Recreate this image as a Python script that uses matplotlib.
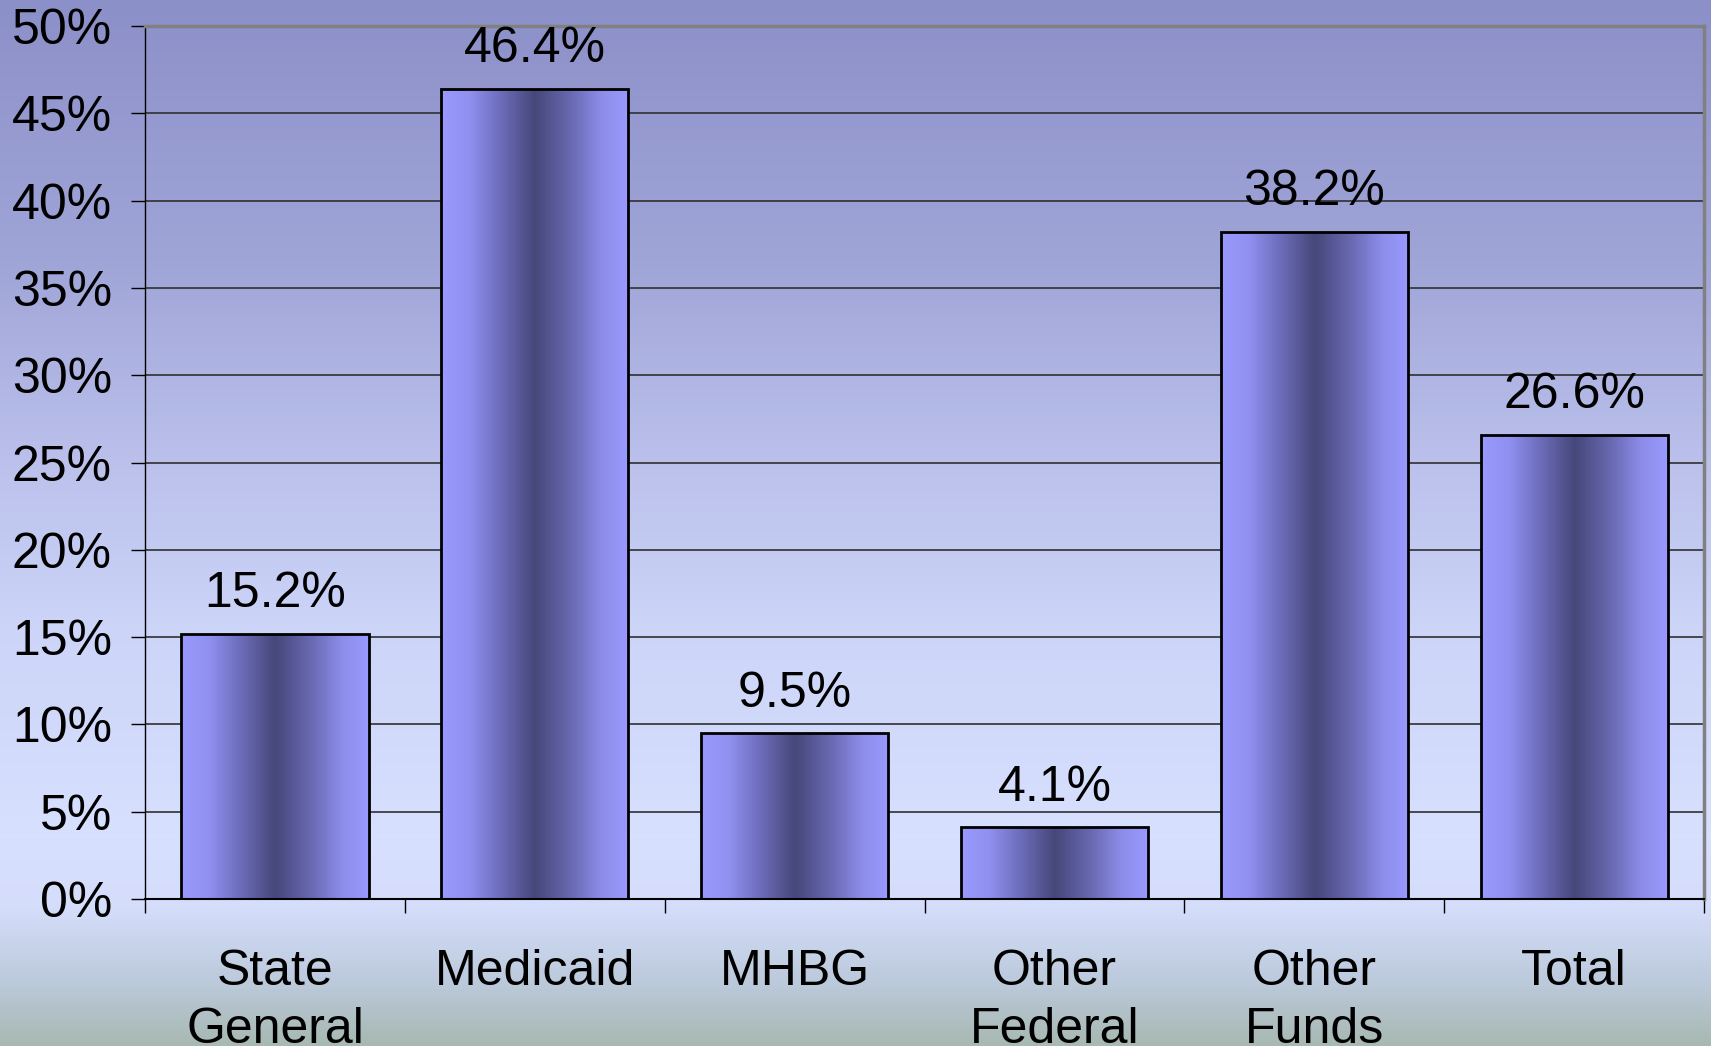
import numpy as np
import matplotlib
matplotlib.use('Agg')
from matplotlib import pyplot as plt
from matplotlib.colors import LinearSegmentedColormap

plt.rcParams['font.family'] = ['Liberation Sans', 'DejaVu Sans']

# data
categories = ['State\nGeneral', 'Medicaid', 'MHBG', 'Other\nFederal', 'Other\nFunds', 'Total']
values = [15.2, 46.4, 9.5, 4.1, 38.2, 26.6]
y_ticks = [0, 5, 10, 15, 20, 25, 30, 35, 40, 45, 50]

fs = 36

fig = plt.figure(figsize=(17.11, 10.46), dpi=100)

# background gradient over the whole figure
bg_cmap = LinearSegmentedColormap.from_list('bg', [
    (0.0, '#8c90c8'), (0.25, '#a0a5d8'), (0.45, '#bcc2ec'), (0.6, '#ccd4f8'),
    (0.8, '#d8e0ff'), (0.87, '#d4ddfa'), (0.94, '#bccadc'), (1.0, '#a8b8b2')])
bg = fig.add_axes([0, 0, 1, 1], zorder=-10)
bg.imshow(np.linspace(0, 1, 256).reshape(-1, 1), cmap=bg_cmap, aspect='auto',
          extent=[0, 1, 0, 1])
bg.set_axis_off()

ax = fig.add_axes([0.0848, 0.1405, 0.9112, 0.8345])
ax.set_facecolor('none')

x = np.arange(len(categories))
bars = ax.bar(x, values, width=0.72, facecolor='none', edgecolor='black',
              linewidth=2, zorder=3)

# horizontal gradient inside each bar
bar_cmap = LinearSegmentedColormap.from_list('bar', [
    (0.0, '#9a9aff'), (0.15, '#9090f0'), (0.3, '#7070c0'), (0.5, '#46477a'),
    (0.7, '#6a6ab4'), (0.85, '#8c8ce8'), (1.0, '#9a9aff')])
grad = np.linspace(0, 1, 256).reshape(1, -1)
for b in bars:
    im = ax.imshow(grad, cmap=bar_cmap, aspect='auto', zorder=2,
                   extent=[b.get_x(), b.get_x() + b.get_width(), 0, b.get_height()])
    im.set_clip_path(b)

for xi, v in zip(x, values):
    ax.annotate('%.1f%%' % v, (xi, v), xytext=(0, 12), textcoords='offset points',
                ha='center', va='bottom', fontsize=fs)

ax.set_xlim(-0.5, len(categories) - 0.5)
ax.set_ylim(0, 50)
ax.set_yticks(y_ticks)
ax.set_yticklabels(['%d%%' % t for t in y_ticks], fontsize=fs)
ax.grid(axis='y', color='#303030', linewidth=1.2, zorder=1)
ax.set_axisbelow(True)

ax.set_xticks(x)
ax.set_xticklabels(categories, fontsize=fs, linespacing=1.32)
ax.set_xticks(np.arange(len(categories) + 1) - 0.5, minor=True)
ax.tick_params(axis='x', which='major', length=0, pad=36)
ax.tick_params(axis='x', which='minor', length=10, width=1, direction='out')
ax.tick_params(axis='y', length=10, width=1, pad=14)

ax.spines['top'].set_color('#808080')
ax.spines['top'].set_linewidth(2.5)
ax.spines['right'].set_color('#808080')
ax.spines['right'].set_linewidth(2.5)
ax.spines['left'].set_linewidth(1)
ax.spines['bottom'].set_linewidth(1.5)

fig.savefig('out.png', dpi=100)
